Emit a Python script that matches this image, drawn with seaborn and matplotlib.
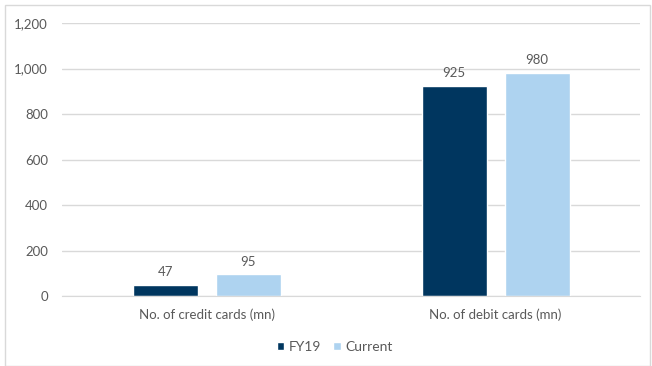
import matplotlib
matplotlib.use('Agg')
import matplotlib.pyplot as plt
import seaborn as sns
import pandas as pd
from matplotlib.patches import Rectangle

categories = ['No. of credit cards (mn)', 'No. of debit cards (mn)']
fy19 = [47, 925]
current = [95, 980]
series = ['FY19', 'Current']
yticks = [0, 200, 400, 600, 800, 1000, 1200]

df = pd.DataFrame({
    'category': categories * 2,
    'series': [series[0]] * 2 + [series[1]] * 2,
    'value': fy19 + current,
})

sns.set_style('white')
plt.rcParams['font.family'] = ['Lato', 'DejaVu Sans']
grey = '#595959'

fig = plt.figure(figsize=(6.52, 3.66), dpi=100)
ax = fig.add_axes([0.095, 0.191, 0.887, 0.746])

sns.barplot(data=df, x='category', y='value', hue='series',
            palette=['#00365f', '#aed3f0'], width=0.574, gap=0.217,
            saturation=1, ax=ax, legend=True)

for c in ax.containers:
    ax.bar_label(c, padding=5, fontsize=9.5, color=grey)

ax.set_ylim(0, 1200)
ax.set_yticks(yticks)
ax.set_yticklabels([f'{t:,}' for t in yticks])
ax.yaxis.grid(True, color='#d9d9d9', linewidth=1)
ax.set_axisbelow(True)
ax.set_xlabel('')
ax.set_ylabel('')
for s in ['top', 'right', 'left']:
    ax.spines[s].set_visible(False)
ax.spines['bottom'].set_color('#d9d9d9')
ax.tick_params(axis='y', length=0, labelsize=9.5, colors=grey, pad=10)
ax.tick_params(axis='x', length=0, labelsize=9.5, colors=grey, pad=9)

ax.legend(loc='center', bbox_to_anchor=(334.5 / 652, 1 - 347 / 366),
          bbox_transform=fig.transFigure, ncol=2, frameon=False,
          fontsize=10, labelcolor=grey, handlelength=0.55, handleheight=0.55,
          handletextpad=0.3, columnspacing=0.9)

fig.patches.append(Rectangle((5 / 652, 0), 1 - 5 / 652 - 2 / 652, 1 - 5 / 366,
                             transform=fig.transFigure, fill=False,
                             edgecolor='#d9d9d9', linewidth=1))

plt.savefig('out.png', dpi=100)
